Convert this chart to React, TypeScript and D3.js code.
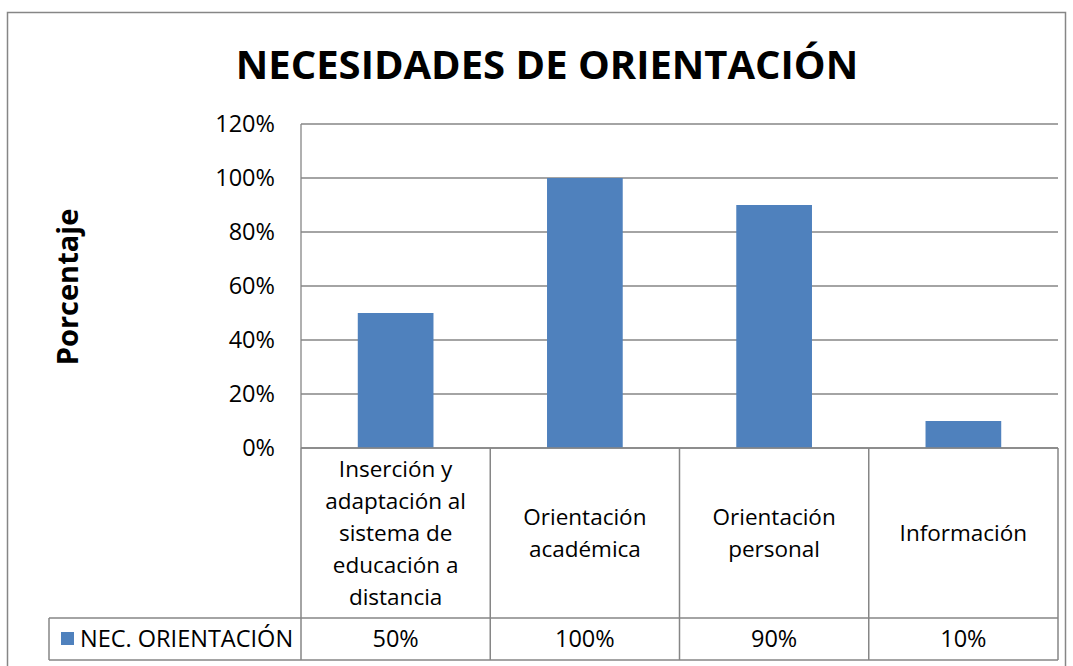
import React from "react";
import * as d3 from "d3";

const categories: string[][] = [
  ["Inserción y", "adaptación al", "sistema de", "educación a", "distancia"],
  ["Orientación", "académica"],
  ["Orientación", "personal"],
  ["Información"],
];
const values = [0.5, 1.0, 0.9, 0.1];
const valueLabels = ["50%", "100%", "90%", "10%"];
const yTicks = [0, 0.2, 0.4, 0.6, 0.8, 1.0, 1.2];
const seriesName = "NEC. ORIENTACIÓN";
const title = "NECESIDADES DE ORIENTACIÓN";
const yTitle = "Porcentaje";

const W = 1073;
const H = 666;
const FONT = "'Open Sans', 'Noto Sans', sans-serif";
const BAR = "#4F81BD";
const GRID = "#868686";

export default function App() {
  const left = 301, right = 1058, top = 124, bottom = 448;
  const legendTop = 618, tableBottom = 660, legendLeft = 49;
  const x = d3.scaleBand<number>().domain(categories.map((_, i) => i)).range([left, right]).paddingInner(0).paddingOuter(0);
  const y = d3.scaleLinear().domain([0, 1.2]).range([bottom, top]);
  const bw = x.bandwidth();
  const barW = bw * 0.4;
  const lineH = 32;
  const catMid = (bottom + legendTop) / 2;
  const fs = 22.5;

  return (
    <svg width={W} height={H} style={{ position: "absolute", left: 0, top: 0, background: "#fff" }}>
      <rect x={7.5} y={12.5} width={1058} height={700} fill="#fff" stroke="#868686" strokeWidth={1.5} />
      <text x={547} y={79} textAnchor="middle" fontFamily={FONT} fontWeight="bold" fontSize={40} fill="#000">{title}</text>
      <text transform={`translate(78,287) rotate(-90)`} textAnchor="middle" fontFamily={FONT} fontWeight="bold" fontSize={29} fill="#000">{yTitle}</text>
      {yTicks.map((t) => (
        <g key={t}>
          <line x1={left} x2={right} y1={y(t)} y2={y(t)} stroke={GRID} strokeWidth={1.3} />
          <text x={275} y={y(t)} dy="0.35em" textAnchor="end" fontFamily={FONT} fontSize={23.5} fill="#000">{d3.format(".0%")(t)}</text>
        </g>
      ))}
      <line x1={left} x2={left} y1={top} y2={bottom} stroke={GRID} strokeWidth={1.3} />
      {values.map((v, i) => (
        <rect key={i} x={(x(i) as number) + (bw - barW) / 2} y={y(v)} width={barW} height={y(0) - y(v)} fill={BAR} />
      ))}
      <g stroke={GRID} strokeWidth={1.5} fill="none">
        <line x1={left} x2={right} y1={bottom} y2={bottom} />
        <line x1={legendLeft} x2={right} y1={legendTop} y2={legendTop} />
        <line x1={legendLeft} x2={right} y1={tableBottom} y2={tableBottom} />
        <line x1={legendLeft} x2={legendLeft} y1={legendTop} y2={tableBottom} />
        {categories.map((_, i) => (
          <line key={i} x1={x(i) as number} x2={x(i) as number} y1={bottom} y2={tableBottom} />
        ))}
        <line x1={right} x2={right} y1={bottom} y2={tableBottom} />
      </g>
      {categories.map((lines, i) => (
        <text key={i} textAnchor="middle" fontFamily={FONT} fontSize={fs} fill="#000">
          {lines.map((l, j) => (
            <tspan key={j} x={(x(i) as number) + bw / 2} y={catMid + (j - (lines.length - 1) / 2) * lineH} dy="0.35em">{l}</tspan>
          ))}
        </text>
      ))}
      <rect x={61} y={632} width={13} height={13} fill={BAR} />
      <text x={80} y={639} dy="0.35em" fontFamily={FONT} fontSize={23.5} fill="#000">{seriesName}</text>
      {valueLabels.map((l, i) => (
        <text key={i} x={(x(i) as number) + bw / 2} y={639} dy="0.35em" textAnchor="middle" fontFamily={FONT} fontSize={23.5} fill="#000">{l}</text>
      ))}
    </svg>
  );
}
